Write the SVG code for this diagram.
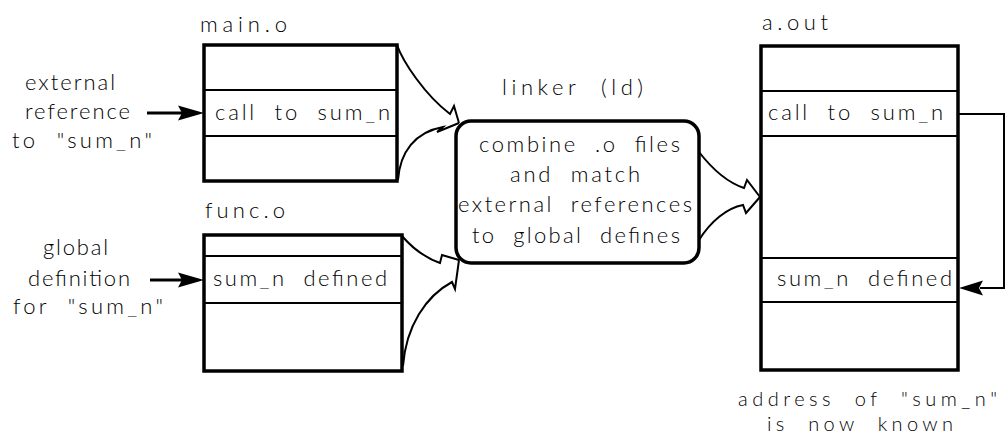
<svg xmlns="http://www.w3.org/2000/svg" width="1007" height="435" viewBox="0 0 1007 435" xml:space="preserve">
  <style>
    text { font-family: Lato, "Liberation Sans", Arial, sans-serif; font-weight: 300; font-size: 22px; fill: #000; white-space: pre; }
    .small { font-size: 20px; }
    .box { fill: none; stroke: #000; stroke-width: 3.5; }
    .div { fill: none; stroke: #000; stroke-width: 2; }
    .flow { fill: none; stroke: #000; stroke-width: 2; stroke-linejoin: miter; }
    .ptr { fill: none; stroke: #000; stroke-width: 3; }
    .link { fill: none; stroke: #000; stroke-width: 2; }
    .head { fill: #000; stroke: none; }
  </style>

  <!-- object file: main.o -->
  <g id="main-o">
    <text x="200" y="32" textLength="87" lengthAdjust="spacing">main.o</text>
    <rect class="box" x="204" y="45" width="193" height="136"/>
    <line class="div" x1="204" y1="90" x2="397" y2="90"/>
    <line class="div" x1="204" y1="136" x2="397" y2="136"/>
    <text x="215" y="120" textLength="175" lengthAdjust="spacing">call  to  sum_n</text>
  </g>

  <!-- object file: func.o -->
  <g id="func-o">
    <text x="205" y="218" textLength="80" lengthAdjust="spacing">func.o</text>
    <rect class="box" x="204" y="235" width="198" height="136"/>
    <line class="div" x1="204" y1="256" x2="402" y2="256"/>
    <line class="div" x1="204" y1="303" x2="402" y2="303"/>
    <text x="213" y="286" textLength="174" lengthAdjust="spacing">sum_n  defined</text>
  </g>

  <!-- the linker step -->
  <g id="linker">
    <text x="502" y="95" textLength="141" lengthAdjust="spacing">linker  (ld)</text>
    <rect class="box" x="456" y="121" width="243" height="142" rx="15" ry="15"/>
    <text x="479" y="152" textLength="201" lengthAdjust="spacing">combine  .o  files</text>
    <text x="510" y="182" textLength="130" lengthAdjust="spacing">and  match</text>
    <text x="458" y="212" textLength="234" lengthAdjust="spacing">external  references</text>
    <text x="472" y="243" textLength="208" lengthAdjust="spacing">to  global  defines</text>
  </g>

  <!-- linked executable: a.out -->
  <g id="a-out">
    <text x="762" y="30" textLength="66" lengthAdjust="spacing">a.out</text>
    <rect class="box" x="761" y="46" width="197" height="324"/>
    <line class="div" x1="761" y1="91" x2="958" y2="91"/>
    <line class="div" x1="761" y1="136" x2="958" y2="136"/>
    <line class="div" x1="761" y1="258" x2="958" y2="258"/>
    <line class="div" x1="761" y1="302" x2="958" y2="302"/>
    <text x="768" y="120" textLength="175" lengthAdjust="spacing">call  to  sum_n</text>
    <text x="777" y="286" textLength="175" lengthAdjust="spacing">sum_n  defined</text>
  </g>

  <!-- side notes -->
  <g id="note-external">
    <text x="25" y="90" textLength="90" lengthAdjust="spacing">external</text>
    <text x="25" y="119" textLength="105" lengthAdjust="spacing">reference</text>
    <text x="12" y="148" textLength="140" lengthAdjust="spacing">to  "sum_n"</text>
  </g>
  <g id="note-global">
    <text x="43" y="255" textLength="65" lengthAdjust="spacing">global</text>
    <text x="28" y="286" textLength="102" lengthAdjust="spacing">definition</text>
    <text x="13" y="314" textLength="150" lengthAdjust="spacing">for  "sum_n"</text>
  </g>
  <g id="note-address">
    <text class="small" x="738" y="406" textLength="259" lengthAdjust="spacing">address  of  "sum_n"</text>
    <text class="small" x="767" y="431" textLength="186" lengthAdjust="spacing">is  now  known</text>
  </g>

  <!-- connectors -->
  <g id="connectors">
    <!-- pointer arrows into the object files -->
    <line class="ptr" x1="147" y1="113" x2="182" y2="113"/>
    <path class="head" d="M204,113 L178,105.5 L182,113 L178,120.5 Z"/>
    <line class="ptr" x1="150" y1="280" x2="182" y2="280"/>
    <path class="head" d="M204,280 L178,272.5 L182,280 L178,287.5 Z"/>

    <!-- main.o flowing into the linker -->
    <path class="flow" d="M397,45 C403,62 425,95 450,114 L454,106 L459,123"/>
    <path class="flow" d="M398,180 C400,152 415,132 443,127 L437,132 L459,123"/>

    <!-- func.o flowing into the linker -->
    <path class="flow" d="M402,236 C414,250 426,258 440,263 L442,255 L459,260"/>
    <path class="flow" d="M403,366 C406,326 426,296 452,282 L455,289 L459,260"/>

    <!-- linker flowing into a.out -->
    <path class="flow" d="M699,152 C713,170 729,183 744,188 L747,180 L760,197"/>
    <path class="flow" d="M699,240 C711,221 727,208 743,205 L746,213 L760,197"/>

    <!-- resolved call inside a.out -->
    <path class="link" d="M958,114 H1004 V288 H980"/>
    <path class="head" d="M959,288 L983,280.5 L979,288 L983,295.5 Z"/>
  </g>
</svg>
